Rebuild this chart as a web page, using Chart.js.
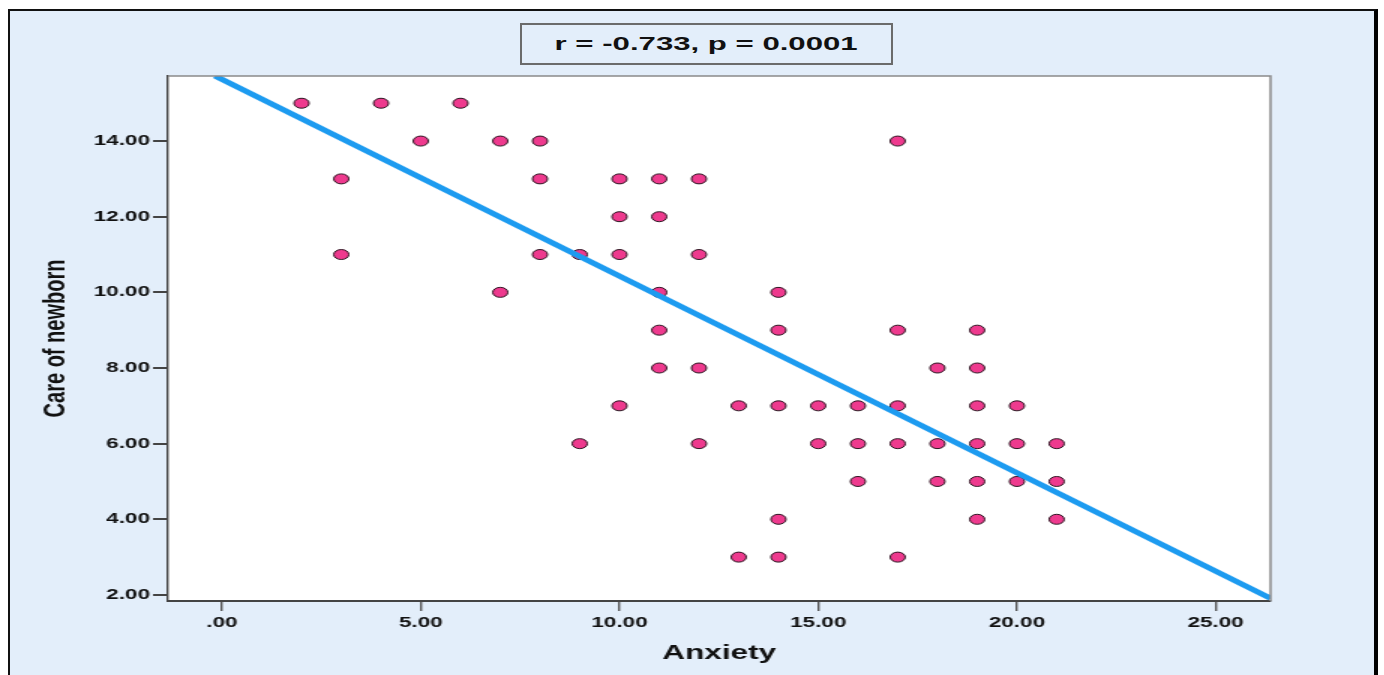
<!DOCTYPE html>
<html>
<head>
<meta charset="utf-8">
<script src="https://cdn.jsdelivr.net/npm/chart.js@4/dist/chart.umd.min.js"></script>
<style>
  html, body { margin: 0; padding: 0; background: #ffffff; overflow: hidden; }
  #frame {
    position: absolute; left: 8px; top: 9px; width: 1364px; height: 680px;
    background: #e3eefa; border-left: 2px solid #111; border-top: 2px solid #111; border-right: 4px solid #000;
  }
  /* the original figure is stretched sideways, so the canvas is too */
  #wrap { position: absolute; left: 0; top: 0; width: 923px; height: 675px; transform: scaleX(1.5); transform-origin: 0 0; }
  #stat {
    position: absolute; left: 520px; top: 23px; width: 369px; height: 38px;
    border: 2px solid #6b6b6b; background: #e3eefa; overflow: hidden;
    font: bold 17.5px "Liberation Sans", Arial, sans-serif; color: #111;
    text-align: center; line-height: 38px;
  }
  #stat span { display: inline-block; transform: scaleX(1.78); }
</style>
</head>
<body>
<div id="frame"></div>
<div id="wrap"><canvas id="myChart" width="923" height="675"></canvas></div>
<div id="stat"><span>r = -0.733, p = 0.0001</span></div>
<script>
// scores (Anxiety, Care of newborn)
const anxiety = [2, 4, 6,
  5, 7, 8, 17,
  3, 8, 10, 11, 12,
  10, 11,
  3, 8, 9, 10, 12,
  7, 11, 14,
  11, 14, 17, 19,
  11, 12, 18, 19,
  10, 13, 14, 15, 16, 17, 19, 20,
  9, 12, 15, 16, 17, 18, 19, 20, 21,
  16, 18, 19, 20, 21,
  14, 19, 21,
  13, 14, 17];
const careNewborn = [15, 15, 15,
  14, 14, 14, 14,
  13, 13, 13, 13, 13,
  12, 12,
  11, 11, 11, 11, 11,
  10, 10, 10,
  9, 9, 9, 9,
  8, 8, 8, 8,
  7, 7, 7, 7, 7, 7, 7, 7,
  6, 6, 6, 6, 6, 6, 6, 6, 6,
  5, 5, 5, 5, 5,
  4, 4, 4,
  3, 3, 3];

// fit line as drawn on the picture
const fitIntercept = 15.63;
const fitSlope = -0.52;

const xTicks = [0, 5, 10, 15, 20, 25];
const yTicks = [2, 4, 6, 8, 10, 12, 14];
const xMin = -1.36, xMax = 26.38;
const yMin = 1.84, yMax = 15.72;

let points = anxiety.map((a, i) => ({x: a, y: careNewborn[i]}));

// line runs from the top edge to the right edge of the plot
let fitLine = [
  {x: (yMax - fitIntercept) / fitSlope, y: yMax},
  {x: xMax, y: fitIntercept + fitSlope * xMax}
];

const plotFrame = {
  id: 'plotFrame',
  beforeDraw(chart) {
    const {ctx, chartArea: a} = chart;
    ctx.save();
    ctx.fillStyle = '#ffffff';
    ctx.fillRect(a.left, a.top, a.right - a.left, a.bottom - a.top);
    ctx.restore();
  },
  afterDraw(chart) {
    const {ctx, chartArea: a} = chart;
    ctx.save();
    ctx.strokeStyle = '#8a8a8a';
    ctx.lineWidth = 1.5;
    ctx.beginPath();
    ctx.moveTo(a.left, a.top);
    ctx.lineTo(a.right, a.top);
    ctx.lineTo(a.right, a.bottom);
    ctx.stroke();
    ctx.restore();
  }
};

let tickFmt = v => Number(v).toFixed(2).replace(/^0\./, '.');
let axisFont = '"Liberation Sans", Arial, sans-serif';

const myChart = document.getElementById('myChart');

let scatterChart = new Chart(myChart, {
  type: 'scatter',
  data: {
    datasets: [{
      type: 'line',
      data: fitLine,
      borderColor: '#1d9bf0',
      borderWidth: 5,
      pointRadius: 0,
      fill: false,
      order: 0
    }, {
      data: points,
      pointRadius: 5,
      backgroundColor: '#ee3a8e',
      borderColor: '#2a1520',
      borderWidth: 1,
      order: 1
    }]
  },
  options: {
    responsive: false,
    animation: false,
    layout: { padding: { left: 0, top: 76, right: 76, bottom: 0 } },
    plugins: { legend: { display: false }, tooltip: { enabled: false } },
    scales: {
      x: {
        type: 'linear',
        min: xMin, max: xMax,
        afterBuildTicks: s => { s.ticks = xTicks.map(v => ({value: v})); },
        afterFit: s => { s.height = 74; },
        grid: { drawOnChartArea: false, tickLength: 10, color: '#555', lineWidth: 1.4 },
        border: { color: '#444', width: 2 },
        ticks: { callback: tickFmt, color: '#111', padding: 3, maxRotation: 0,
          font: { family: axisFont, size: 15, weight: 'bold' } },
        title: { display: true, text: 'Anxiety', color: '#111', padding: { top: 0, bottom: 9 },
          font: { family: axisFont, size: 21, weight: 'bold' } }
      },
      y: {
        min: yMin, max: yMax,
        afterBuildTicks: s => { s.ticks = yTicks.map(v => ({value: v})); },
        afterFit: s => { s.width = 112; },
        grid: { drawOnChartArea: false, tickLength: 10, color: '#444', lineWidth: 2 },
        border: { color: '#444', width: 1.4 },
        ticks: { callback: tickFmt, color: '#111', padding: 2,
          font: { family: axisFont, size: 15, weight: 'bold' } },
        title: { display: true, text: 'Care of newborn', color: '#111', padding: { top: 25, bottom: 0 },
          font: { family: axisFont, size: 20, weight: 'bold' } }
      }
    }
  },
  plugins: [plotFrame]
});
</script>
</body>
</html>
